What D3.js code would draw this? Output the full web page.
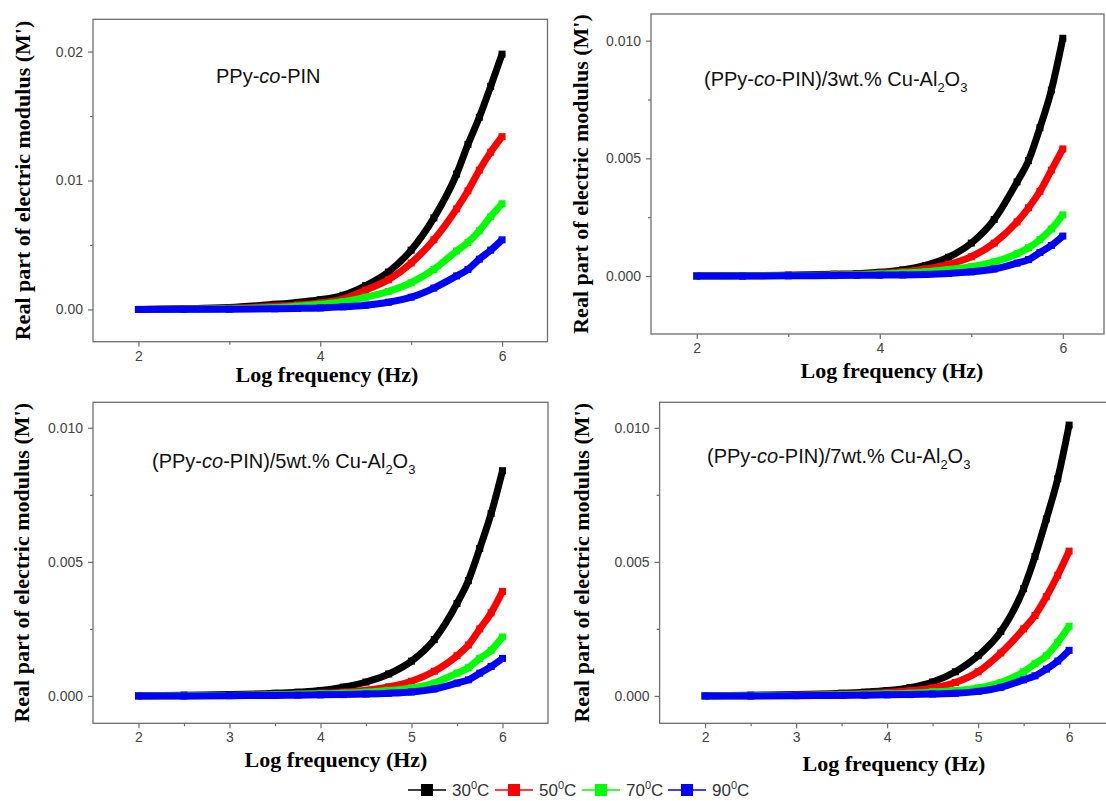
<!DOCTYPE html>
<html><head><meta charset="utf-8">
<script src="https://cdn.jsdelivr.net/npm/d3@7"></script>
<style>body{margin:0;background:#fff;} svg{display:block;}</style>
</head><body>
<svg id="c" width="1106" height="801"></svg>
<script>
// ---------- DATA ----------
const logF = [2.0, 2.5, 3.0, 3.5, 3.75, 4.0, 4.25, 4.5, 4.75, 5.0, 5.25, 5.5, 5.625, 5.75, 5.875, 6.0];
const tempLabels = ["30", "50", "70", "90"];

// Panel 1: PPy-co-PIN
const p1_30 = [0.0000, 0.00005, 0.00015, 0.0004, 0.00055, 0.00075, 0.0011, 0.00185, 0.0029, 0.0046, 0.0071, 0.0105, 0.0128, 0.0149, 0.0173, 0.0198];
const p1_50 = [0.0000, 0.00003, 0.0001, 0.00025, 0.00035, 0.0005, 0.0008, 0.0015, 0.0023, 0.0036, 0.0054, 0.0078, 0.0092, 0.0108, 0.0122, 0.0134];
const p1_70 = [0.0000, 0.00002, 0.00006, 0.00015, 0.00025, 0.0004, 0.0006, 0.00095, 0.0014, 0.00207, 0.0031, 0.00454, 0.0052, 0.0061, 0.0072, 0.0082];
const p1_90 = [0.0000, 0.00001, 0.00002, 0.00005, 0.00008, 0.00012, 0.0002, 0.00033, 0.00056, 0.00095, 0.00166, 0.0026, 0.0031, 0.0039, 0.0046, 0.0054];

// Panel 2: 3 wt.%
const p2_30 = [0.00001, 0.00002, 0.00004, 0.00008, 0.0001, 0.00016, 0.00026, 0.00045, 0.0008, 0.0014, 0.0024, 0.0040, 0.0049, 0.0063, 0.0079, 0.0101];
const p2_50 = [0.00001, 0.00001, 0.00003, 0.00005, 0.00008, 0.00012, 0.00018, 0.0003, 0.0005, 0.00082, 0.0014, 0.0023, 0.0029, 0.0036, 0.0045, 0.0054];
const p2_70 = [0.0000, 0.00001, 0.00002, 0.00004, 0.00006, 0.00009, 0.00013, 0.00018, 0.00028, 0.0004, 0.0006, 0.00095, 0.0012, 0.00155, 0.0020, 0.0026];
const p2_90 = [0.0000, 0.0000, 0.00001, 0.00002, 0.00003, 0.00004, 0.00005, 0.00007, 0.00011, 0.00018, 0.0003, 0.00055, 0.0007, 0.0010, 0.0013, 0.0017];

// Panel 3: 5 wt.%
const p3_30 = [0.00001, 0.00003, 0.00005, 0.0001, 0.00014, 0.0002, 0.00033, 0.00052, 0.00082, 0.0013, 0.0021, 0.00345, 0.0043, 0.0055, 0.0068, 0.0084];
const p3_50 = [0.0000, 0.00001, 0.00002, 0.00005, 0.00007, 0.0001, 0.00014, 0.00021, 0.00034, 0.00055, 0.00092, 0.0015, 0.0019, 0.0025, 0.0031, 0.0039];
const p3_70 = [0.0000, 0.00001, 0.00002, 0.00004, 0.00006, 0.00008, 0.0001, 0.00014, 0.0002, 0.0003, 0.00048, 0.00085, 0.00105, 0.0014, 0.0017, 0.0022];
const p3_90 = [0.0000, 0.0000, 0.00001, 0.00002, 0.00003, 0.00004, 0.00005, 0.00007, 0.0001, 0.00015, 0.00026, 0.00048, 0.0006, 0.00085, 0.0011, 0.0014];

// Panel 4: 7 wt.%
const p4_30 = [0.00001, 0.00003, 0.00005, 0.0001, 0.00014, 0.0002, 0.00031, 0.00052, 0.0009, 0.0015, 0.0024, 0.0040, 0.0052, 0.0066, 0.0081, 0.0101];
const p4_50 = [0.0000, 0.00001, 0.00003, 0.00006, 0.00009, 0.00013, 0.00019, 0.0003, 0.0005, 0.0009, 0.0016, 0.0025, 0.0030, 0.0037, 0.0045, 0.0054];
const p4_70 = [0.0000, 0.00001, 0.00002, 0.00004, 0.00006, 0.00008, 0.0001, 0.00015, 0.0002, 0.0003, 0.0005, 0.0009, 0.0012, 0.0015, 0.0020, 0.0026];
const p4_90 = [0.0000, 0.0000, 0.00001, 0.00002, 0.00003, 0.00004, 0.00005, 0.00007, 0.0001, 0.00017, 0.00032, 0.0006, 0.00075, 0.0010, 0.0013, 0.0017];

// Tick values
const xMajorA = [2, 4, 6];
const xMinorA = [3, 5];
const xMajorB = [2, 3, 4, 5, 6];
const xMinorB = [2.5, 3.5, 4.5, 5.5];
const yMajor1 = [0, 0.01, 0.02];
const yMinor1 = [0.005, 0.015];
const yMajor2 = [0, 0.005, 0.010];
const yMinor2 = [0.0025, 0.0075];

// Titles (segments: text, kind)
const title1 = [["PPy-", ""], ["co", "i"], ["-PIN", ""]];
const title2 = [["(PPy-", ""], ["co", "i"], ["-PIN)/3wt.% Cu-Al", ""], ["2", "sub"], ["O", ""], ["3", "sub"]];
const title3 = [["(PPy-", ""], ["co", "i"], ["-PIN)/5wt.% Cu-Al", ""], ["2", "sub"], ["O", ""], ["3", "sub"]];
const title4 = [["(PPy-", ""], ["co", "i"], ["-PIN)/7wt.% Cu-Al", ""], ["2", "sub"], ["O", ""], ["3", "sub"]];
const xLabel = "Log frequency (Hz)";
const yLabel = "Real part of electric modulus (M')";

// ---------- STYLE / LAYOUT ----------
const colors = ["#000000", "#ff0000", "#00ff00", "#0000ff"];
const axisColor = "#6e6e6e";
const tickTextColor = "#444444";
const sansFont = "'Liberation Sans', Arial, sans-serif";
const serifFont = "'Liberation Serif', 'Times New Roman', serif";

const svg = d3.select("#c");

const panels = [
  {left: 93, right: 547.5, top: 19.3, bottom: 341.7, xDomain: [1.5, 6.5], yDomain: [-0.0025, 0.0225],
   xMajor: xMajorA, xMinor: xMinorA, yMajor: yMajor1, yMinor: yMinor1, yFmt: ".2f",
   series: [p1_30, p1_50, p1_70, p1_90], title: title1, titleX: 216, titleY: 83,
   yLabX: 30, xLabX: 327, xLabY: 382},
  {left: 651, right: 1104, top: 14, bottom: 334, xDomain: [1.5, 6.45], yDomain: [-0.00246, 0.01113],
   xMajor: xMajorA, xMinor: xMinorA, yMajor: yMajor2, yMinor: yMinor2, yFmt: ".3f",
   series: [p2_30, p2_50, p2_70, p2_90], title: title2, titleX: 704, titleY: 86,
   yLabX: 588, xLabX: 892, xLabY: 378},
  {left: 93, right: 548, top: 402.3, bottom: 723.3, xDomain: [1.5, 6.5], yDomain: [-0.00102, 0.01095],
   xMajor: xMajorB, xMinor: xMinorB, yMajor: yMajor2, yMinor: yMinor2, yFmt: ".3f",
   series: [p3_30, p3_50, p3_70, p3_90], title: title3, titleX: 152, titleY: 468,
   yLabX: 29, xLabX: 336, xLabY: 767},
  {left: 659.6, right: 1114.6, top: 402.3, bottom: 723.3, xDomain: [1.5, 6.5], yDomain: [-0.00102, 0.01095],
   xMajor: xMajorB, xMinor: xMinorB, yMajor: yMajor2, yMinor: yMinor2, yFmt: ".3f",
   series: [p4_30, p4_50, p4_70, p4_90], title: title4, titleX: 707, titleY: 463,
   yLabX: 589, xLabX: 894, xLabY: 771}
];

function styleAxis(sel) {
  sel.select(".domain").remove();
  sel.selectAll(".tick line").attr("stroke", axisColor).attr("stroke-width", 1.2);
  sel.selectAll(".tick text").attr("fill", tickTextColor).style("font-family", sansFont).style("font-size", "14px");
}

function addTitle(parent, segs, x, y) {
  const t = parent.append("text").attr("x", x).attr("y", y)
    .style("font-family", sansFont).style("font-size", "20px").attr("fill", "#111");
  let shifted = false;
  segs.forEach(([s, kind]) => {
    const ts = t.append("tspan").text(s);
    if (kind === "i") ts.style("font-style", "italic");
    if (kind === "sub") {
      ts.attr("dy", shifted ? 0 : 6).style("font-size", "13px");
      shifted = true;
    } else if (shifted) {
      ts.attr("dy", -6);
      shifted = false;
    }
  });
}

panels.forEach(cfg => {
  const g = svg.append("g");
  const x = d3.scaleLinear().domain(cfg.xDomain).range([cfg.left, cfg.right]);
  const y = d3.scaleLinear().domain(cfg.yDomain).range([cfg.bottom, cfg.top]);

  // frame
  g.append("rect").attr("x", cfg.left).attr("y", cfg.top)
    .attr("width", cfg.right - cfg.left).attr("height", cfg.bottom - cfg.top)
    .attr("fill", "none").attr("stroke", axisColor).attr("stroke-width", 1.3);

  // x axis
  g.append("g").attr("transform", `translate(0,${cfg.bottom})`)
    .call(d3.axisBottom(x).tickValues(cfg.xMajor).tickSize(5).tickPadding(4).tickFormat(d3.format("d")))
    .call(styleAxis);
  g.append("g").attr("transform", `translate(0,${cfg.bottom})`)
    .call(d3.axisBottom(x).tickValues(cfg.xMinor).tickSize(3).tickFormat(""))
    .call(styleAxis);
  // y axis
  g.append("g").attr("transform", `translate(${cfg.left},0)`)
    .call(d3.axisLeft(y).tickValues(cfg.yMajor).tickSize(5).tickPadding(5).tickFormat(d3.format(cfg.yFmt)))
    .call(styleAxis);
  g.append("g").attr("transform", `translate(${cfg.left},0)`)
    .call(d3.axisLeft(y).tickValues(cfg.yMinor).tickSize(3).tickFormat(""))
    .call(styleAxis);

  // series
  const line = d3.line().x(d => x(d[0])).y(d => y(d[1])).curve(d3.curveMonotoneX);
  cfg.series.forEach((vals, i) => {
    const pts = logF.map((f, k) => [f, vals[k]]);
    g.append("path").datum(pts).attr("d", line)
      .attr("fill", "none").attr("stroke", colors[i]).attr("stroke-width", 7)
      .attr("stroke-linecap", "butt");
    g.selectAll(null).data(pts).enter().append("rect")
      .attr("x", d => x(d[0]) - 3.5).attr("y", d => y(d[1]) - 3.5)
      .attr("width", 7).attr("height", 7).attr("fill", colors[i]);
  });

  addTitle(g, cfg.title, cfg.titleX, cfg.titleY);

  // axis labels
  g.append("text").attr("x", cfg.xLabX).attr("y", cfg.xLabY).attr("text-anchor", "middle")
    .style("font-family", serifFont).style("font-weight", "bold").style("font-size", "22px")
    .attr("fill", "#000").text(xLabel);
  const cy = (cfg.top + cfg.bottom) / 2;
  g.append("text").attr("transform", `translate(${cfg.yLabX},${cy}) rotate(-90)`).attr("text-anchor", "middle")
    .style("font-family", serifFont).style("font-weight", "bold").style("font-size", "22px")
    .attr("fill", "#000").text(yLabel);
});

// legend
const legendX = [408, 495, 582, 668];
const legY = 790;
const lg = svg.append("g");
tempLabels.forEach((t, i) => {
  const x0 = legendX[i];
  lg.append("line").attr("x1", x0).attr("x2", x0 + 38).attr("y1", legY).attr("y2", legY)
    .attr("stroke", colors[i]).attr("stroke-width", 1.3);
  lg.append("rect").attr("x", x0 + 19 - 6).attr("y", legY - 6).attr("width", 12).attr("height", 12).attr("fill", colors[i]);
  const tx = lg.append("text").attr("x", x0 + 44).attr("y", legY + 6)
    .style("font-family", sansFont).style("font-size", "17px").attr("fill", "#333");
  tx.append("tspan").text(t);
  tx.append("tspan").attr("dy", -7).style("font-size", "11px").text("0");
  tx.append("tspan").attr("dy", 7).text("C");
});
</script>
</body></html>
